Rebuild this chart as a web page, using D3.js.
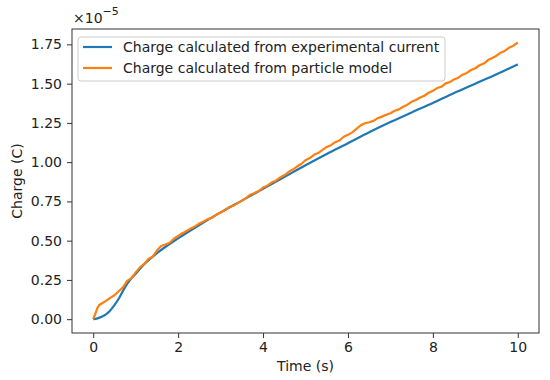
<!DOCTYPE html>
<html>
<head>
<meta charset="utf-8">
<script src="https://cdn.jsdelivr.net/npm/d3@7"></script>
<style>
  body { margin: 0; background: #fff; }
  svg { font-family: 'DejaVu Sans', sans-serif; }
</style>
</head>
<body>
<div id="chart"></div>
<script>
// charge values are in units of 1e-5 C
var blueTime = [0, 0.1, 0.2, 0.3, 0.4, 0.5, 0.6, 0.7, 0.8, 0.9, 1.0, 1.2, 1.5, 2, 2.5, 3, 3.5, 4, 4.5, 5, 5.5, 6, 6.5, 7, 7.5, 8, 8.5, 9, 9.5, 10];
var blueCharge = [0, 0.005, 0.015, 0.03, 0.055, 0.09, 0.13, 0.18, 0.225, 0.26, 0.29, 0.35, 0.42, 0.515, 0.6, 0.68, 0.755, 0.83, 0.905, 0.98, 1.052, 1.12, 1.19, 1.255, 1.317, 1.377, 1.44, 1.50, 1.56, 1.623];

var orangeTime = [0, 0.05, 0.1, 0.15, 0.2, 0.3, 0.4, 0.5, 0.6, 0.7, 0.8, 0.9,
  1.0, 1.1, 1.2, 1.3, 1.4, 1.5, 1.6, 1.7, 1.8, 1.9,
  2.0, 2.1, 2.2, 2.3, 2.4, 2.5, 2.6, 2.7, 2.8, 2.9,
  3.0, 3.1, 3.2, 3.3, 3.4, 3.5, 3.6, 3.7, 3.8, 3.9,
  4.0, 4.1, 4.2, 4.3, 4.4, 4.5, 4.6, 4.7, 4.8, 4.9,
  5.0, 5.1, 5.2, 5.3, 5.4, 5.5, 5.6, 5.7, 5.8, 5.9,
  6.0, 6.1, 6.2, 6.3, 6.4, 6.5, 6.6, 6.7, 6.8, 6.9,
  7.0, 7.1, 7.2, 7.3, 7.4, 7.5, 7.6, 7.7, 7.8, 7.9,
  8.0, 8.1, 8.2, 8.3, 8.4, 8.5, 8.6, 8.7, 8.8, 8.9,
  9.0, 9.1, 9.2, 9.3, 9.4, 9.5, 9.6, 9.7, 9.8, 9.9, 10.0];
var orangeCharge = [0, 0.035, 0.072, 0.092, 0.1, 0.117, 0.136, 0.152, 0.178, 0.203, 0.244, 0.262,
  0.298, 0.33, 0.352, 0.383, 0.398, 0.437, 0.466, 0.476, 0.487, 0.512,
  0.53, 0.548, 0.562, 0.578, 0.591, 0.61, 0.622, 0.637, 0.646, 0.666,
  0.679, 0.692, 0.714, 0.722, 0.739, 0.754, 0.771, 0.793, 0.804, 0.816,
  0.838, 0.85, 0.87, 0.882, 0.902, 0.916, 0.937, 0.953, 0.972, 0.988,
  1.012, 1.026, 1.047, 1.058, 1.078, 1.097, 1.108, 1.127, 1.138, 1.162,
  1.174, 1.19, 1.212, 1.235, 1.248, 1.254, 1.263, 1.28, 1.29, 1.302,
  1.312, 1.327, 1.336, 1.353, 1.366, 1.384, 1.396, 1.412, 1.423, 1.442,
  1.454, 1.472, 1.48, 1.502, 1.51, 1.527, 1.538, 1.557, 1.568, 1.587,
  1.598, 1.617, 1.628, 1.65, 1.663, 1.678, 1.697, 1.71, 1.73, 1.742, 1.762];

var xTicks = [0, 2, 4, 6, 8, 10];
var yTicks = [0, 0.25, 0.5, 0.75, 1.0, 1.25, 1.5, 1.75];
var seriesNames = ['Charge calculated from experimental current', 'Charge calculated from particle model'];
var seriesColors = ['#1f77b4', '#ff7f0e'];

var W = 550, H = 380;
var plot = { left: 72, right: 539, top: 29, bottom: 333 };
var textColor = '#222';
var fs = '14px';

var svg = d3.select('#chart').append('svg').attr('width', W).attr('height', H);

var x = d3.scaleLinear().domain([-0.5, 10.5]).range([plot.left, plot.right]);
var y = d3.scaleLinear().domain([-0.088, 1.848]).range([plot.bottom, plot.top]);

// axes
var xAxis = svg.append('g').attr('transform', 'translate(0,' + plot.bottom + ')')
  .call(d3.axisBottom(x).tickValues(xTicks).tickSize(5).tickPadding(4).tickFormat(d3.format('d')));
var yAxis = svg.append('g').attr('transform', 'translate(' + plot.left + ',0)')
  .call(d3.axisLeft(y).tickValues(yTicks).tickSize(5).tickPadding(5).tickFormat(d3.format('.2f')));

[xAxis, yAxis].forEach(function(ax) {
  ax.select('.domain').remove();
  ax.selectAll('.tick line').attr('stroke', '#333');
  ax.selectAll('.tick text').attr('fill', textColor).style('font-size', fs)
    .style('font-family', "'DejaVu Sans', sans-serif");
});

// lines
var blueData = blueTime.map(function(t, i) { return [t, blueCharge[i]]; });
var orangeData = orangeTime.map(function(t, i) { return [t, orangeCharge[i]]; });

var smooth = d3.line().x(function(d) { return x(d[0]); }).y(function(d) { return y(d[1]); }).curve(d3.curveMonotoneX);
var raw = d3.line().x(function(d) { return x(d[0]); }).y(function(d) { return y(d[1]); });

svg.append('path').datum(blueData).attr('d', smooth)
  .attr('fill', 'none').attr('stroke', seriesColors[0]).attr('stroke-width', 2.2);
svg.append('path').datum(orangeData).attr('d', raw)
  .attr('fill', 'none').attr('stroke', seriesColors[1]).attr('stroke-width', 2.2)
  .attr('stroke-linejoin', 'round');

// frame
svg.append('rect').attr('x', plot.left).attr('y', plot.top)
  .attr('width', plot.right - plot.left).attr('height', plot.bottom - plot.top)
  .attr('fill', 'none').attr('stroke', '#333').attr('stroke-width', 1);

// legend
var legend = svg.append('g').attr('transform', 'translate(78,37)');
legend.append('rect').attr('width', 367).attr('height', 44).attr('rx', 3)
  .attr('fill', '#fff').attr('fill-opacity', 0.8).attr('stroke', '#ccc').attr('stroke-width', 1);
seriesNames.forEach(function(name, i) {
  var ly = 10 + i * 21;
  legend.append('line').attr('x1', 5).attr('x2', 34).attr('y1', ly).attr('y2', ly)
    .attr('stroke', seriesColors[i]).attr('stroke-width', 2.2);
  legend.append('text').attr('x', 45).attr('y', ly).attr('dy', '0.35em')
    .attr('fill', textColor).style('font-size', fs).text(name);
});

// axis labels
svg.append('text').attr('x', (plot.left + plot.right) / 2).attr('y', 371)
  .attr('text-anchor', 'middle').attr('fill', textColor).style('font-size', fs).text('Time (s)');
svg.append('text').attr('transform', 'translate(22,' + ((plot.top + plot.bottom) / 2) + ') rotate(-90)')
  .attr('text-anchor', 'middle').attr('fill', textColor).style('font-size', fs).text('Charge (C)');

// offset text
var off = svg.append('text').attr('x', 73).attr('y', 23).attr('fill', textColor).style('font-size', fs);
off.append('tspan').text('\u00d710');
off.append('tspan').attr('dy', -8).style('font-size', '11px').text('\u22125');
</script>
</body>
</html>
